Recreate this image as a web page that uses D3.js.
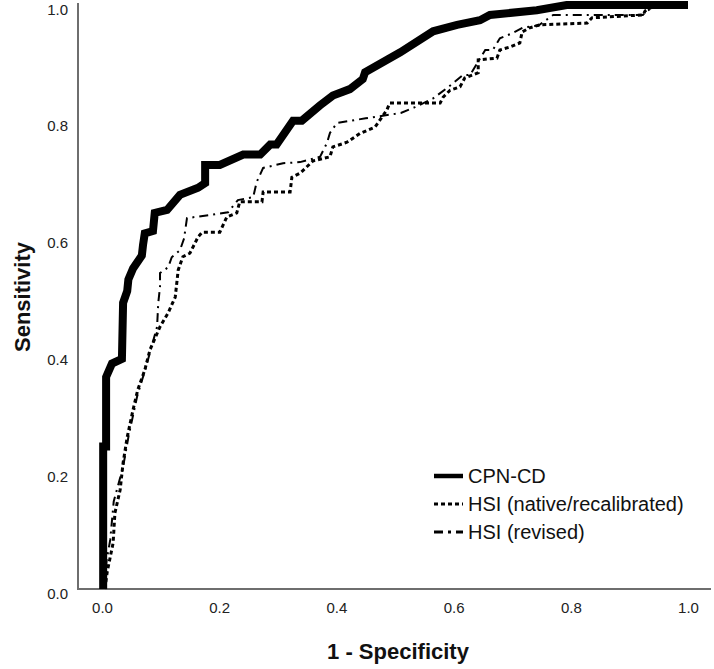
<!DOCTYPE html>
<html>
<head>
<meta charset="utf-8">
<script src="https://cdn.jsdelivr.net/npm/d3@7"></script>
<style>
  html, body { margin: 0; padding: 0; background: #fff; }
  svg { display: block; }
</style>
</head>
<body>
<script>
// ---- data (1 - specificity, sensitivity) ----
const seriesNames = ["CPN-CD", "HSI (native/recalibrated)", "HSI (revised)"];
const xTicks = [0, 0.2, 0.4, 0.6, 0.8, 1.0];
const yTicks = [0, 0.2, 0.4, 0.6, 0.8, 1.0];

const cpnFpr  = [0.002,0.002,0.007,0.007,0.017,0.034,0.036,0.043,0.045,0.053,0.068,0.070,0.073,0.087,0.090,0.111,0.133,0.164,0.176,0.176,0.201,0.241,0.270,0.287,0.298,0.326,0.341,0.372,0.394,0.423,0.445,0.449,0.509,0.565,0.606,0.645,0.662,0.742,0.793,1.0];
const cpnTpr  = [0,0.244,0.244,0.363,0.386,0.394,0.490,0.510,0.530,0.549,0.571,0.589,0.609,0.613,0.644,0.649,0.675,0.687,0.695,0.726,0.726,0.744,0.744,0.761,0.761,0.802,0.802,0.828,0.845,0.856,0.873,0.885,0.919,0.955,0.966,0.974,0.983,0.991,1.0,1.0];

const nativeFpr = [0.005,0.009,0.019,0.022,0.031,0.036,0.043,0.053,0.061,0.073,0.082,0.099,0.113,0.125,0.130,0.138,0.150,0.164,0.171,0.201,0.213,0.230,0.235,0.273,0.275,0.321,0.324,0.338,0.360,0.389,0.394,0.418,0.440,0.466,0.486,0.491,0.577,0.582,0.594,0.611,0.619,0.642,0.642,0.674,0.679,0.696,0.713,0.717,0.730,0.747,0.828,0.836,0.923,0.927,0.945,1.0];
const nativeTpr = [0,0.030,0.079,0.130,0.170,0.216,0.260,0.307,0.341,0.375,0.410,0.449,0.473,0.500,0.546,0.569,0.575,0.603,0.611,0.611,0.637,0.644,0.663,0.663,0.680,0.680,0.705,0.712,0.733,0.740,0.757,0.765,0.780,0.791,0.820,0.832,0.832,0.842,0.854,0.860,0.875,0.884,0.906,0.909,0.923,0.928,0.935,0.954,0.961,0.966,0.969,0.978,0.983,0.990,1.0,1.0];

const revisedFpr = [0.003,0.008,0.014,0.020,0.036,0.045,0.060,0.075,0.094,0.096,0.099,0.099,0.113,0.119,0.133,0.140,0.145,0.215,0.232,0.258,0.264,0.275,0.309,0.338,0.372,0.384,0.389,0.401,0.450,0.510,0.534,0.565,0.589,0.616,0.628,0.654,0.667,0.679,0.701,0.718,0.745,0.770,0.923,0.930,0.950,1.0];
const revisedTpr = [0,0.050,0.084,0.150,0.209,0.260,0.330,0.380,0.449,0.490,0.517,0.541,0.551,0.568,0.580,0.600,0.635,0.645,0.666,0.671,0.697,0.721,0.729,0.731,0.740,0.764,0.781,0.798,0.806,0.815,0.825,0.840,0.858,0.880,0.880,0.923,0.923,0.943,0.952,0.961,0.965,0.983,0.983,0.990,1.0,1.0];

const W = 714, H = 669;
const svg = d3.select("body").append("svg").attr("width", W).attr("height", H);

const x = d3.scaleLinear().domain([0, 1]).range([102, 688]);
const y = d3.scaleLinear().domain([0, 1]).range([589, 5]);

const font = "'Liberation Sans', Arial, sans-serif";

// axes lines
svg.append("line").attr("x1", 78).attr("x2", 78).attr("y1", 3).attr("y2", 589)
  .attr("stroke", "#6e6e6e").attr("stroke-width", 2);
svg.append("line").attr("x1", 77).attr("x2", 711).attr("y1", 589).attr("y2", 589)
  .attr("stroke", "#6e6e6e").attr("stroke-width", 2);

// axis tick labels via d3 axes
const xAxis = svg.append("g").attr("transform", "translate(0,589)")
  .call(d3.axisBottom(x).tickValues(xTicks).tickFormat(d3.format(".1f")).tickSize(0).tickPadding(13));
const yAxis = svg.append("g").attr("transform", "translate(78,0)")
  .call(d3.axisLeft(y).tickValues(yTicks).tickFormat(d3.format(".1f")).tickSize(0).tickPadding(10));
[xAxis, yAxis].forEach(g => {
  g.select(".domain").remove();
  g.selectAll("text").attr("font-family", font).attr("font-size", 15).attr("fill", "#222");
});
yAxis.selectAll("text").attr("dy", "0.6em");

// axis titles
svg.append("text").attr("x", 398).attr("y", 659).attr("text-anchor", "middle")
  .attr("font-family", font).attr("font-weight", "bold").attr("font-size", 22).attr("fill", "#111")
  .text("1 - Specificity");
svg.append("text").attr("transform", "translate(30,297) rotate(-90)").attr("text-anchor", "middle")
  .attr("font-family", font).attr("font-weight", "bold").attr("font-size", 22).attr("fill", "#111")
  .text("Sensitivity");

const line = d3.line().x(d => x(d[0])).y(d => y(d[1]));
const mk = (a, b) => a.map((v, i) => [v, b[i]]);

const styles = [
  { data: mk(cpnFpr, cpnTpr), w: 8, dash: null, lw: 4.5, ldash: null },
  { data: mk(nativeFpr, nativeTpr), w: 3, dash: "4,3", lw: 3, ldash: "4,3" },
  { data: mk(revisedFpr, revisedTpr), w: 2, dash: "9,5,2,5", lw: 3, ldash: "9,5,3,5" }
];

// draw thin lines first, then the thick one on top
[1, 2, 0].forEach(i => {
  const s = styles[i];
  svg.append("path").datum(s.data).attr("d", line)
    .attr("fill", "none").attr("stroke", "#000").attr("stroke-width", s.w)
    .attr("stroke-linejoin", "miter").attr("stroke-linecap", "butt")
    .attr("stroke-dasharray", s.dash);
});

// legend
const legY = [476, 504, 532];
seriesNames.forEach((name, i) => {
  const s = styles[i];
  svg.append("line").attr("x1", 434).attr("x2", 463).attr("y1", legY[i]).attr("y2", legY[i])
    .attr("stroke", "#000").attr("stroke-width", s.lw).attr("stroke-dasharray", s.ldash);
  svg.append("text").attr("x", 468).attr("y", legY[i] + 7)
    .attr("font-family", font).attr("font-size", 20).attr("fill", "#111").text(name);
});
</script>
</body>
</html>
